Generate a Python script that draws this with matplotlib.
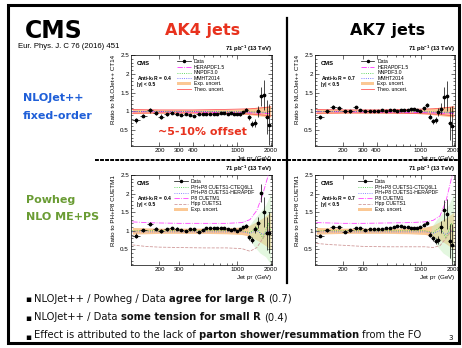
#!/usr/bin/env python3
"""CMS inclusive jet slide: data / theory ratios for AK4 and AK7 jets."""

import numpy as np
import matplotlib
matplotlib.use("Agg")
import matplotlib.pyplot as plt
from matplotlib.lines import Line2D
from matplotlib.patches import Patch, Rectangle
from matplotlib.ticker import NullFormatter, MultipleLocator

W, H = 462, 348

# ── Data ───────────────────────────────────────────────────────────────────────

pt_edges = [114, 133, 153, 174, 196, 220, 245, 272, 300, 330, 362, 395, 430,
            468, 507, 548, 592, 638, 686, 737, 790, 846, 905, 967, 1032, 1101,
            1172, 1248, 1327, 1410, 1497, 1588, 1684, 1784, 1890, 2000]

# data / NLOJet++ CT14
ratio_nlo_ak4 = [0.76, 0.89, 1.03, 0.95, 0.86, 0.93, 0.96, 0.93, 0.91, 0.93,
                 0.91, 0.88, 0.92, 0.92, 0.94, 0.93, 0.94, 0.94, 0.95, 0.95,
                 0.94, 0.95, 0.94, 0.93, 0.93, 0.98, 1.05, 0.84, 0.67, 0.69,
                 1.00, 1.40, 1.43, 0.86, 0.65]
ratio_nlo_ak7 = [0.85, 1.00, 1.11, 1.09, 1.00, 1.01, 1.11, 1.03, 1.00, 1.01,
                 1.02, 1.02, 1.03, 1.01, 1.04, 1.03, 1.02, 1.03, 1.05, 1.03,
                 1.06, 1.06, 1.04, 1.02, 1.09, 1.18, 0.86, 0.74, 0.76, 0.98,
                 1.07, 1.38, 1.40, 0.68, 0.60]
# data / PH+P8 CUETM1
ratio_pw_ak4 = [0.87, 1.02, 1.18, 1.06, 1.00, 1.04, 1.07, 1.06, 1.02, 1.00,
                1.04, 1.04, 0.98, 1.02, 1.07, 1.07, 1.08, 1.08, 1.07, 1.07,
                1.06, 1.03, 1.04, 1.00, 1.04, 1.09, 1.13, 0.82, 0.74, 1.04,
                1.22, 2.02, 1.50, 0.93, 0.95]
ratio_pw_ak7 = [0.87, 1.02, 1.09, 1.09, 0.98, 1.02, 1.07, 1.07, 1.03, 1.04,
                1.04, 1.05, 1.06, 1.07, 1.08, 1.10, 1.12, 1.12, 1.11, 1.09,
                1.07, 1.07, 1.08, 1.10, 1.16, 1.20, 0.90, 0.80, 0.72, 0.76,
                1.10, 1.55, 1.45, 0.72, 0.62]

err_ak4 = [0.06, 0.04, 0.06, 0.05, 0.06, 0.04, 0.03, 0.03, 0.03, 0.02,
           0.02, 0.02, 0.02, 0.02, 0.02, 0.02, 0.02, 0.02, 0.02, 0.02,
           0.02, 0.02, 0.03, 0.03, 0.04, 0.04, 0.05, 0.07, 0.08, 0.10,
           0.15, 0.25, 0.40, 0.45, 0.55]
err_ak7 = [0.05, 0.04, 0.05, 0.05, 0.05, 0.04, 0.03, 0.03, 0.02, 0.02,
           0.02, 0.02, 0.02, 0.02, 0.02, 0.02, 0.02, 0.02, 0.02, 0.02,
           0.02, 0.02, 0.03, 0.03, 0.04, 0.05, 0.06, 0.07, 0.08, 0.11,
           0.15, 0.28, 0.40, 0.45, 0.55]

# NLO row curves
nlo_pt       = [114, 200, 400, 700, 1000, 1300, 1600, 2000]
nlo_exp_hi   = [1.06, 1.05, 1.05, 1.05, 1.06, 1.09, 1.12, 1.15]
nlo_exp_lo   = [0.94, 0.95, 0.95, 0.95, 0.94, 0.91, 0.88, 0.85]
nlo_theo_hi  = [1.05, 1.04, 1.04, 1.05, 1.06, 1.07, 1.09, 1.12]
nlo_theo_lo  = [0.95, 0.96, 0.96, 0.95, 0.94, 0.93, 0.91, 0.88]
nlo_herapdf  = [0.99, 0.99, 0.98, 0.97, 0.97, 0.96, 0.95, 0.94]
nlo_nnpdf    = [1.00, 1.00, 1.00, 1.00, 0.99, 0.99, 0.98, 0.97]
nlo_mmht     = [1.00, 1.00, 1.00, 0.99, 0.99, 0.98, 0.98, 0.97]

# Powheg row curves
pw_pt        = [114, 150, 200, 300, 500, 800, 1100, 1300, 1500, 1700, 1900, 2000]
pw_exp_hi    = [1.09, 1.08, 1.07, 1.07, 1.07, 1.08, 1.10, 1.15, 1.25, 1.35, 1.45, 1.50]
pw_exp_lo    = [0.91, 0.92, 0.93, 0.93, 0.93, 0.92, 0.90, 0.85, 0.75, 0.65, 0.55, 0.50]
pw_cteq      = [1.00, 1.00, 1.00, 1.00, 1.00, 1.00, 1.00, 0.95, 1.10, 0.80, 1.20, 1.00]
pw_hera      = [0.97, 0.97, 0.97, 0.97, 0.97, 0.97, 0.97, 0.93, 1.00, 0.90, 1.00, 0.95]
p8_ak4       = [1.24, 1.22, 1.21, 1.20, 1.20, 1.20, 1.22, 1.30, 1.55, 2.00, 2.50, 2.60]
p8_ak7       = [1.22, 1.21, 1.20, 1.20, 1.21, 1.22, 1.24, 1.28, 1.40, 1.80, 2.40, 2.60]
hpp_ak4      = [0.62, 0.58, 0.56, 0.55, 0.54, 0.54, 0.52, 0.45, 0.55, 0.80, 1.00, 1.10]
hpp_ak7      = [0.66, 0.63, 0.61, 0.58, 0.57, 0.57, 0.57, 0.55, 0.60, 0.80, 1.00, 1.10]
ph_band_pt   = [1250, 1400, 1600, 1800, 2000]
ph_band_lo   = [0.90, 0.60, 0.40, 0.30, 0.10]
ph_band_hi   = [1.10, 1.30, 1.50, 1.70, 2.00]

bullets = [
    [("NLOJet++ / Powheg / Data", "normal"), ("agree for large R", "bold"), ("(0.7)", "normal")],
    [("NLOJet++ / Data", "normal"), ("some tension for small R", "bold"), ("(0.4)", "normal")],
    [("Effect is attributed to the lack of", "normal"), ("parton shower/resummation", "bold"),
     ("from the FO", "normal")],
]

# ── Style ──────────────────────────────────────────────────────────────────────

ROOT_FONT  = "Liberation Sans"
SLIDE_FONT = "DejaVu Sans"
BLUE  = "#1f5fd8"
GREEN = "#6a9c34"
RED   = "#e8321e"
ORANGE_BAND = "#fbc894"

plt.rcParams["font.family"] = ROOT_FONT
plt.rcParams["mathtext.default"] = "regular"

fig = plt.figure(figsize=(W / 100, H / 100), dpi=100)
fig.patch.set_facecolor("white")

# background axes in pixel coordinates for slide decorations
bg = fig.add_axes([0, 0, 1, 1])
bg.set_xlim(0, W)
bg.set_ylim(H, 0)
bg.axis("off")


def px_axes(l, t, r, b):
    return fig.add_axes([l / W, 1 - b / H, (r - l) / W, (b - t) / H])


edges = np.array(pt_edges, dtype=float)
centers = np.sqrt(edges[:-1] * edges[1:])
xerr = [centers - edges[:-1], edges[1:] - centers]


def setup_axes(ax, xticks, ylabel):
    ax.set_xscale("log")
    ax.set_xlim(111, 2050)
    ax.set_ylim(0.08, 2.5)
    ax.set_xticks(xticks)
    ax.set_xticklabels([str(v) for v in xticks])
    ax.xaxis.set_minor_formatter(NullFormatter())
    ax.set_yticks([0.5, 1, 1.5, 2, 2.5])
    ax.set_yticklabels(["0.5", "1", "1.5", "2", "2.5"])
    ax.yaxis.set_minor_locator(MultipleLocator(0.1))
    ax.tick_params(which="both", direction="in", top=True, right=True,
                   labelsize=4.5, pad=1.5, width=0.4)
    ax.tick_params(which="major", length=3)
    ax.tick_params(which="minor", length=1.5)
    for s in ax.spines.values():
        s.set_linewidth(0.5)
    ax.set_ylabel(ylabel, loc="top", fontsize=4.5, labelpad=3)
    ax.set_xlabel("Jet p$_\\mathregular{T}$ (GeV)", loc="right", fontsize=4.5, labelpad=0.5)
    ax.text(1.0, 1.015, "71 pb$^{-1}$ (13 TeV)", transform=ax.transAxes,
            ha="right", va="bottom", fontsize=4.3, weight="bold")


def draw_data(ax, ratio, err):
    ax.errorbar(centers, ratio, yerr=err, xerr=xerr, fmt="o", ms=1.7,
                color="black", elinewidth=0.5, capsize=0, zorder=6)


def cms_tag(ax, radius):
    ax.text(0.04, 0.93, "CMS", transform=ax.transAxes, fontsize=4.2,
            weight="bold", va="top")
    ax.text(0.04, 0.79, f"Anti-k$_\\mathregular{{t}}$ R = {radius}", transform=ax.transAxes,
            fontsize=3.6, weight="bold", va="top")
    ax.text(0.04, 0.70, "|y| < 0.5", transform=ax.transAxes, fontsize=3.6,
            weight="bold", va="top")


def nlo_panel(ax, ratio, err, radius):
    setup_axes(ax, [200, 300, 400, 1000, 2000], "Ratio to NLOJet++ CT14")
    ax.fill_between(nlo_pt, nlo_exp_lo, nlo_exp_hi, color=ORANGE_BAND, lw=0, zorder=1)
    ax.plot(nlo_pt, nlo_theo_hi, color="#ff5a5a", lw=0.6, zorder=2)
    ax.plot(nlo_pt, nlo_theo_lo, color="#ff5a5a", lw=0.6, zorder=2)
    ax.plot(nlo_pt, nlo_herapdf, color="#ff33ff", lw=0.6, ls="-.", zorder=3)
    ax.plot(nlo_pt, nlo_nnpdf, color="#33cc33", lw=0.6, ls=":", zorder=3)
    ax.plot(nlo_pt, nlo_mmht, color="#5555ff", lw=0.6, ls=":", zorder=3)
    draw_data(ax, ratio, err)
    cms_tag(ax, radius)
    handles = [
        Line2D([], [], color="black", marker="o", ms=1.5, lw=0.5),
        Line2D([], [], color="#ff33ff", lw=0.6, ls="-."),
        Line2D([], [], color="#33cc33", lw=0.6, ls=":"),
        Line2D([], [], color="#5555ff", lw=0.6, ls=":"),
        Patch(facecolor=ORANGE_BAND, edgecolor="none"),
        Line2D([], [], color="#ff5a5a", lw=0.6),
    ]
    labels = ["Data", "HERAPDF1.5", "NNPDF3.0", "MMHT2014", "Exp. uncert.", "Theo. uncert."]
    ax.legend(handles, labels, loc="upper left", bbox_to_anchor=(0.31, 0.985),
              fontsize=3.7, frameon=False, handlelength=2.6, handleheight=0.5,
              labelspacing=0.12, borderpad=0, handletextpad=0.6)


def pw_panel(ax, ratio, err, radius, p8, hpp):
    setup_axes(ax, [200, 300, 1000, 2000], "Ratio to PH+P8 CUETM1")
    ax.fill_between(pw_pt, pw_exp_lo, pw_exp_hi, color=ORANGE_BAND, lw=0, zorder=1)
    ax.fill_between(ph_band_pt, ph_band_lo, ph_band_hi, color="#c8f0c0", alpha=0.5,
                    lw=0, zorder=1)
    ax.plot(pw_pt, pw_cteq, color="#33cc33", lw=0.6, ls=":", zorder=3)
    ax.plot(pw_pt, pw_hera, color="#6666ff", lw=0.6, ls=":", zorder=3)
    ax.plot(pw_pt, p8, color="#ff44ff", lw=0.6, ls="-.", zorder=3)
    ax.plot(pw_pt, hpp, color="#d09a9a", lw=0.6, ls="--", zorder=3)
    draw_data(ax, ratio, err)
    cms_tag(ax, radius)
    handles = [
        Line2D([], [], color="black", marker="o", ms=1.5, lw=0.5),
        Line2D([], [], color="#33cc33", lw=0.6, ls=":"),
        Line2D([], [], color="#6666ff", lw=0.6, ls=":"),
        Line2D([], [], color="#ff44ff", lw=0.6, ls="-."),
        Line2D([], [], color="#d09a9a", lw=0.6, ls="--"),
        Patch(facecolor=ORANGE_BAND, edgecolor="none"),
    ]
    labels = ["Data", "PH+P8 CUETS1-CTEQ6L1", "PH+P8 CUETS1-HERAPDF",
              "P8 CUETM1", "Hpp CUETS1", "Exp. uncert."]
    ax.legend(handles, labels, loc="upper left", bbox_to_anchor=(0.29, 0.985),
              fontsize=3.7, frameon=False, handlelength=2.6, handleheight=0.5,
              labelspacing=0.12, borderpad=0, handletextpad=0.6)


# ── Panels ─────────────────────────────────────────────────────────────────────

nlo_panel(px_axes(131, 55, 272, 146), ratio_nlo_ak4, err_ak4, 0.4)
nlo_panel(px_axes(315, 55, 455, 146), ratio_nlo_ak7, err_ak7, 0.7)
pw_panel(px_axes(131, 175, 272, 265), ratio_pw_ak4, err_ak4, 0.4, p8_ak4, hpp_ak4)
pw_panel(px_axes(315, 175, 455, 265), ratio_pw_ak7, err_ak7, 0.7, p8_ak7, hpp_ak7)

# ── Slide decorations ──────────────────────────────────────────────────────────

bg.add_patch(Rectangle((8, 5), 451, 338, fill=False, lw=2.2, ec="black"))
bg.plot([287, 287], [18, 283], color="black", lw=1.6)
bg.plot([95, 459], [160, 160], color="black", lw=1.4, ls=(0, (2, 0.6)))

bg.text(25, 31, "CMS", fontsize=17, weight="bold", family=SLIDE_FONT, va="center")
bg.text(18, 47, "Eur. Phys. J. C 76 (2016) 451", fontsize=5.6, va="center")
bg.text(203, 30, "AK4 jets", fontsize=11.5, weight="bold", family=SLIDE_FONT,
        color=RED, ha="center", va="center")
bg.text(388, 30, "AK7 jets", fontsize=11.5, weight="bold", family=SLIDE_FONT,
        ha="center", va="center")

bg.text(23, 98, "NLOJet++", fontsize=8, weight="bold", family=SLIDE_FONT, color=BLUE, va="center")
bg.text(23, 116, "fixed-order", fontsize=8, weight="bold", family=SLIDE_FONT, color=BLUE, va="center")
bg.text(26, 200, "Powheg", fontsize=8, weight="bold", family=SLIDE_FONT, color=GREEN, va="center")
bg.text(26, 217, "NLO ME+PS", fontsize=8, weight="bold", family=SLIDE_FONT, color=GREEN, va="center")

# drawn on the figure so it sits above the panel
fig.text(202 / W, 1 - 132 / H, "~5-10% offset", fontsize=8, weight="bold",
         family=SLIDE_FONT, color=RED, ha="center", va="center", zorder=10)

# bullet lines with mixed weights
for i, parts in enumerate(bullets):
    y = 300 + i * 18.5
    bg.text(28, y, "\u25aa", fontsize=6.5, family=SLIDE_FONT, ha="center", va="center")
    txt, w = parts[0]
    prev = bg.text(34, y + 3.5, txt, fontsize=7.2, weight=w, family=SLIDE_FONT,
                   va="bottom", ha="left", color="#111111")
    for txt, w in parts[1:]:
        prev = bg.annotate(txt, xy=(1, 0), xycoords=prev, xytext=(2.3, 0),
                           textcoords="offset points", fontsize=7.2, weight=w,
                           family=SLIDE_FONT, va="bottom", ha="left", color="#111111")

bg.text(451, 338, "3", fontsize=5, family=SLIDE_FONT, ha="center", va="center")

fig.savefig("out.png", dpi=100)
